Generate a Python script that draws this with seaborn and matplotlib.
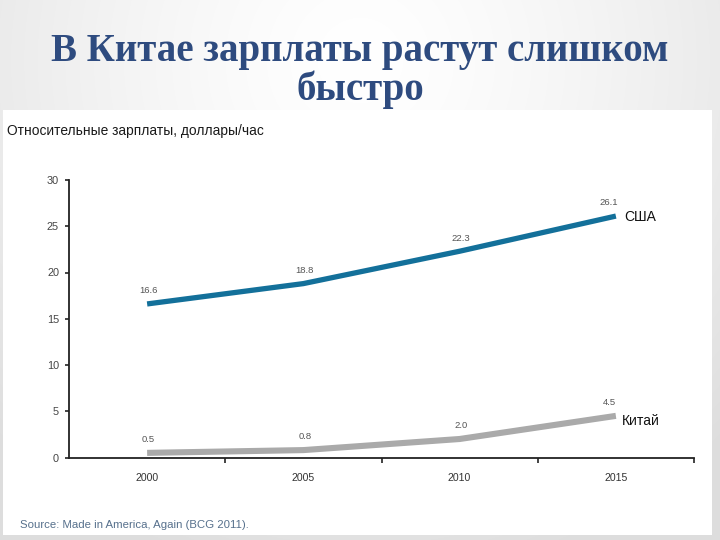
import numpy as np
import pandas as pd
import matplotlib
matplotlib.use("Agg")
import matplotlib.pyplot as plt
import seaborn as sns
from matplotlib.patches import Rectangle

# ---- data ----
years = ["2000", "2005", "2010", "2015"]
usa = [16.6, 18.8, 22.3, 26.1]
china = [0.5, 0.8, 2.0, 4.5]
series_names = ["США", "Китай"]
y_ticks = [0, 5, 10, 15, 20, 25, 30]

title = "В Китае зарплаты растут слишком\nбыстро"
subtitle = "Относительные зарплаты, доллары/час"
source = "Source: Made in America, Again (BCG 2011)."

df = pd.DataFrame({
    "pos": list(range(len(years))) * 2,
    "value": usa + china,
    "country": [series_names[0]] * len(years) + [series_names[1]] * len(years),
})

sns.set_theme(style="white")
plt.rcParams["font.family"] = ["Liberation Sans", "DejaVu Sans"]

W, H = 720, 540
fig = plt.figure(figsize=(7.2, 5.4), dpi=100)

# slide background gradient
bg = fig.add_axes([0, 0, 1, 1])
yy, xx = np.mgrid[0:H, 0:W]
r = np.sqrt(((xx - 360) / 520.0) ** 2 + ((yy - 60) / 520.0) ** 2)
g = 1.0 - 0.13 * np.clip(r, 0, 1) ** 1.4
bg.imshow(np.dstack([g, g, g]), aspect="auto", extent=[0, 1, 0, 1], origin="upper")
bg.set_axis_off()

# white picture box
fig.patches.append(Rectangle((3 / W, (H - 535) / H), (712 - 3) / W, (535 - 110) / H,
                             transform=fig.transFigure, facecolor="white",
                             edgecolor="none", zorder=1))

fig.text(0.5, (H - 71) / H, title, ha="center", va="center", fontsize=28,
         fontweight="bold", color="#2e4b7f", family=["Liberation Serif", "DejaVu Serif"],
         linespacing=1.05, zorder=5)
fig.text(7 / W, (H - 131) / H, subtitle, ha="left", va="center", fontsize=9.9,
         color="#1a1a1a", zorder=5)
fig.text(20 / W, (H - 525) / H, source, ha="left", va="center", fontsize=8.2,
         color="#56708c", zorder=5)

ax = fig.add_axes([69 / W, (H - 457.5) / H, 625 / W, (457.5 - 180) / H])
ax.set_zorder(3)
ax.patch.set_alpha(0)

palette = {series_names[0]: "#13709a", series_names[1]: "#aaaaaa"}
widths = {series_names[0]: 3.8, series_names[1]: 4.4}
for name in series_names:
    sns.lineplot(data=df[df["country"] == name], x="pos", y="value", ax=ax,
                 color=palette[name], linewidth=widths[name], legend=False,
                 solid_capstyle="butt")

for vals in (usa, china):
    for i, v in enumerate(vals):
        dx = -5 if i == len(vals) - 1 else 1
        ax.annotate(f"{v:.1f}", (i, v), xytext=(dx, 9.5), textcoords="offset points",
                    ha="center", va="center", fontsize=6.8, color="#555555")

ax.annotate(series_names[0], (3, usa[-1]), xytext=(6, -1), textcoords="offset points",
            ha="left", va="center", fontsize=10, color="#111111")
ax.annotate(series_names[1], (3, china[-1]), xytext=(4, -4), textcoords="offset points",
            ha="left", va="center", fontsize=10, color="#111111")

ax.set_xlim(-0.5, 3.5)
ax.set_ylim(0, 30)
ax.set_xticks(range(len(years)))
ax.set_xticklabels(years)
ax.set_xticks([0.5, 1.5, 2.5, 3.5], minor=True)
ax.set_yticks(y_ticks)
ax.set_yticklabels([str(t) for t in y_ticks])
ax.set_xlabel("")
ax.set_ylabel("")
for s in ["top", "right"]:
    ax.spines[s].set_visible(False)
for s in ["left", "bottom"]:
    ax.spines[s].set_color("#222222")
    ax.spines[s].set_linewidth(1.3)
ax.tick_params(axis="x", which="major", length=0, pad=11, labelsize=7.6, labelcolor="#333333")
ax.tick_params(axis="x", which="minor", length=3.8, width=1.2, color="#222222",
               direction="out", bottom=True)
ax.tick_params(axis="y", length=2.9, width=1.2, color="#222222", direction="out",
               left=True, pad=4.3, labelsize=7.8, labelcolor="#444444")

fig.savefig("out.png", dpi=100)
